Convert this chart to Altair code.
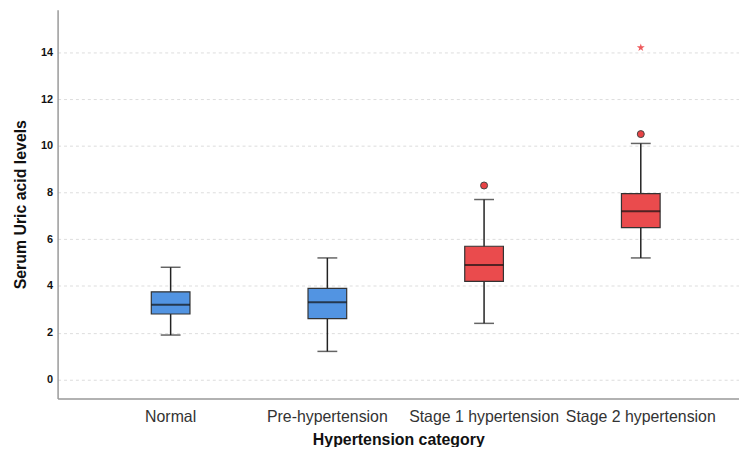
import altair as alt
import pandas as pd

categories = ["Normal", "Pre-hypertension", "Stage 1 hypertension", "Stage 2 hypertension"]
whisker_low = [1.9, 1.2, 2.4, 5.2]
q1 = [2.8, 2.6, 4.2, 6.5]
median = [3.2, 3.3, 4.9, 7.2]
q3 = [3.75, 3.9, 5.7, 7.95]
whisker_high = [4.8, 5.2, 7.7, 10.1]
box_colors = ["#5294E2", "#5294E2", "#EA4B4D", "#EA4B4D"]

outlier_cats = ["Stage 1 hypertension", "Stage 2 hypertension"]
outlier_vals = [8.3, 10.5]
extreme_cats = ["Stage 2 hypertension"]
extreme_vals = [14.2]

boxes = pd.DataFrame({
    "cat": categories, "lo": whisker_low, "q1": q1, "med": median,
    "q3": q3, "hi": whisker_high, "col": box_colors,
})
outliers = pd.DataFrame({"cat": outlier_cats, "v": outlier_vals})
extremes = pd.DataFrame({"cat": extreme_cats, "v": extreme_vals})

FONT = "Liberation Sans"
ydom = [-0.82, 15.82]

xenc = alt.X(
    "cat:N", sort=categories,
    scale=alt.Scale(domain=categories, paddingInner=0, paddingOuter=0.174, align=0.636),
    axis=alt.Axis(
        title="Hypertension category", labelAngle=0, ticks=False, grid=False,
        labelFontSize=16, labelColor="#333333", labelPadding=10, labelFont=FONT,
        titleFontSize=16, titleFontWeight="bold", titleFont=FONT, titlePadding=7,
        titleColor="#111111", domainColor="#999999", domainWidth=1.5,
    ),
)

def yenc(field):
    return alt.Y(
        field, type="quantitative",
        scale=alt.Scale(domain=ydom, nice=False, zero=False),
        axis=alt.Axis(
            title="Serum Uric acid levels", values=[0, 2, 4, 6, 8, 10, 12, 14],
            ticks=False, grid=True, gridColor="#dddddd", gridDash=[3, 3], gridWidth=1,
            labelFontSize=11, labelFontWeight="bold", labelFont=FONT, labelColor="#111111",
            labelPadding=5, titleFontSize=16, titleFontWeight="bold", titleFont=FONT,
            titleColor="#111111", titlePadding=12, domainColor="#999999", domainWidth=1.5,
        ),
    )

base = alt.Chart(boxes)

whisk = base.mark_rule(color="#222222", strokeWidth=1.5).encode(
    x=xenc, y=yenc("lo"), y2="hi"
)
bar = base.mark_bar(size=39, stroke="#333333", strokeWidth=1.2).encode(
    x=xenc, y=yenc("q1"), y2="q3", color=alt.Color("col:N", scale=None)
)
med = base.mark_tick(size=39, thickness=2, color="#111111").encode(x=xenc, y=yenc("med"))
cap_lo = base.mark_tick(size=20, thickness=1.5, color="#222222").encode(x=xenc, y=yenc("lo"))
cap_hi = base.mark_tick(size=20, thickness=1.5, color="#222222").encode(x=xenc, y=yenc("hi"))

out = alt.Chart(outliers).mark_point(
    filled=True, size=50, color="#E84345", stroke="#444444", strokeWidth=1, opacity=1
).encode(x=xenc, y=yenc("v"))

star_path = "M0,-1L0.22,-0.31L0.95,-0.31L0.36,0.12L0.59,0.81L0,0.38L-0.59,0.81L-0.36,0.12L-0.95,-0.31L-0.22,-0.31Z"
ext = alt.Chart(extremes).mark_point(
    shape=star_path, size=70, filled=True, color="#EE5A5C", opacity=1
).encode(x=xenc, y=yenc("v"))

chart = alt.layer(whisk, bar, med, cap_lo, cap_hi, out, ext).properties(
    width=687, height=392, autosize="none",
    padding={"left": 50, "top": 0, "right": 0, "bottom": 47},
).configure_view(stroke=None)

chart.save("out.html", embed_options={"renderer": "svg", "actions": False})
